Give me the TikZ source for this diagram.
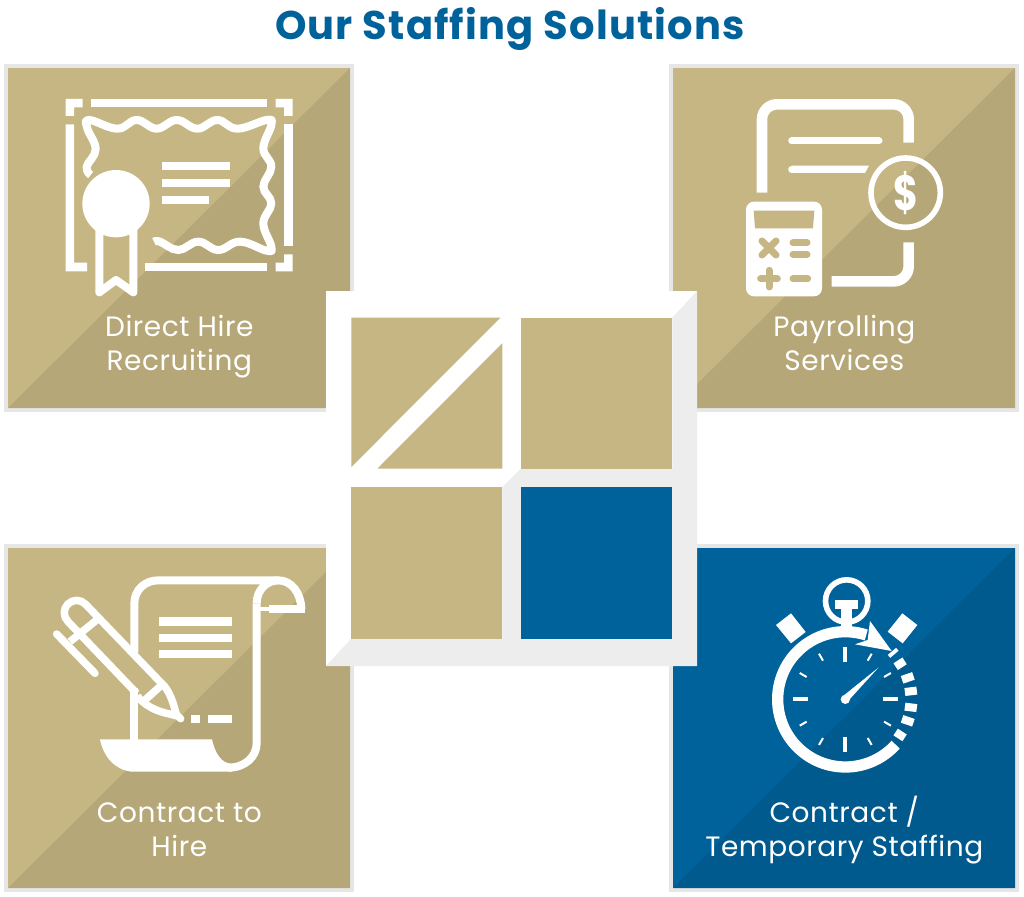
\documentclass[tikz,border=0pt]{standalone}
\usepackage{fontspec}
\setmainfont{Poppins}
\definecolor{tanlight}{HTML}{C5B683}
\definecolor{tandark}{HTML}{B5A777}
\definecolor{bluelight}{HTML}{00629B}
\definecolor{bluedark}{HTML}{005A8E}
\definecolor{edgegrey}{HTML}{E6E6E6}
\definecolor{bevelgrey}{HTML}{EDEDED}
\tikzset{
  label/.style={text=white,align=center,anchor=base,font=\fontsize{28}{34.7}\selectfont\addfontfeature{LetterSpace=2}},
  icon/.style={draw=white,line width=8pt},
  solid/.style={fill=white}
}
\begin{document}
\begin{tikzpicture}[x=1pt,y=-1pt]
\useasboundingbox (0,0) rectangle (1024,896);
\fill[white] (0,0) rectangle (1024,896);

\node[text=bluelight,anchor=base,font=\fontsize{40}{44}\selectfont\bfseries\addfontfeature{LetterSpace=3}] (title) at (510,40) {Our Staffing Solutions};

% cards
\foreach \x/\y/\lt/\dk in {8/68/tanlight/tandark,673/68/tanlight/tandark,8/548/tanlight/tandark,673/548/bluelight/bluedark} {
  \fill[\lt,draw=edgegrey,line width=4pt] (\x-2,\y-2) rectangle (\x+344,\y+342);
  \fill[\lt] (\x,\y) rectangle (\x+342,\y+340);
  \fill[\dk] (\x+342,\y) -- (\x+342,\y+340) -- (\x,\y+340) -- cycle;
}

% centre block
\fill[white] (326,291) rectangle (697,666);
\fill[bevelgrey] (697,291) -- (697,666) -- (326,666) -- (351.3,638.7) -- (502.3,638.7) -- (502.3,487.3) -- (521,468.7) -- (672.3,468.7) -- (672.3,317.7) -- cycle;
\fill[tanlight] (351.3,317.7) -- (500.3,317.7) -- (351.3,467) -- cycle;
\fill[tanlight] (502.3,343.3) -- (502.3,468.7) -- (377.3,468.7) -- cycle;
\fill[tanlight] (521,317.7) rectangle (672.3,468.7);
\fill[tanlight] (351.3,487.3) rectangle (502.3,638.7);
\fill[bluelight] (521,487.3) rectangle (672.3,638.7);

% certificate
\begin{scope}[shift={(0,60)},scale=1/3]
  \fill[solid] (197,117) -- (248,117) -- (248,142) -- (222,142) -- (222,168) -- (197,168) -- cycle;
  \fill[solid] (273,117) rectangle (802,142);
  \fill[solid] (827,117) -- (878,117) -- (878,168) -- (852,168) -- (852,142) -- (827,142) -- cycle;
  \fill[solid] (852,193) rectangle (878,558);
  \fill[solid] (878,583) -- (878,634) -- (827,634) -- (827,608) -- (852,608) -- (852,583) -- cycle;
  \fill[solid] (436,608) rectangle (802,634);
  \fill[solid] (197,193) -- (222,193) -- (222,608) -- (261,608) -- (261,634) -- (197,634) -- cycle;
  \draw[icon,line join=round] plot[smooth,tension=.7] coordinates {(272,345) (260,320) (287,268) (262,205) (268,180) (352,206) (410,180) (470,206) (530,180) (592,206) (652,180) (712,206) (800,180) (814,195) (790,265) (814,320) (790,380) (814,430) (790,490) (814,560) (800,572) (720,545) (655,570) (595,545) (535,570) (480,545) (462,545)};
  \fill[solid] (348,431) circle[radius=101];
  \draw[icon,line join=round] (298,505) -- (298,697) -- (348,660) -- (400,697) -- (400,505);
  \fill[solid] (487,306) rectangle (689,331);
  \fill[solid] (487,357) rectangle (689,382);
  \fill[solid] (487,407) rectangle (626,432);
\end{scope}

% payroll
\begin{scope}[shift={(665,60)},scale=1/3]
  \draw[icon,line width=10.6pt,rounded corners=15pt] (291,398) -- (291,133) -- (731,133) -- (731,248);
  \draw[icon,line width=10.6pt,rounded corners=15pt] (731,547) -- (731,664) -- (500,664);
  \draw[icon,line width=7pt,line cap=round] (380,243) -- (642,243);
  \draw[icon,line width=7pt,line cap=round] (380,328) -- (420,328);
  \fill[solid] (380,317) -- (612,317) -- (600,339) -- (380,339) -- cycle;
  \draw[icon,line width=5.6pt] (722,398) circle[radius=104];
  \node[text=white,font=\fontsize{38}{38}\selectfont\bfseries] (dollar) at (722,398) {\scalebox{1}[1.3]{\$}};
  \fill[solid,rounded corners=8pt] (243,425) rectangle (471,709);
  \fill[tanlight] (266,452) -- (448,452) -- (444,505) -- (270,505) -- cycle;
  \draw[tanlight,line width=7pt,line cap=round] (291,543) -- (333,585);
  \draw[tanlight,line width=7pt,line cap=round] (333,543) -- (291,585);
  \draw[tanlight,line width=7pt,line cap=round] (384,549) -- (426,549);
  \draw[tanlight,line width=7pt,line cap=round] (384,583) -- (426,583);
  \draw[tanlight,line width=7pt,line cap=round] (287,656) -- (337,656);
  \draw[tanlight,line width=7pt,line cap=round] (312,631) -- (312,681);
  \draw[tanlight,line width=7pt,line cap=round] (384,656) -- (428,656);
\end{scope}

% contract
\begin{scope}[shift={(0,540)},scale=1/3]
  \draw[icon] (403,338) -- (403,190) .. controls (403,150) and (435,121) .. (475,121) -- (835,121) .. controls (875,121) and (903,160) .. (904,207);
  \draw[icon] (770,190) .. controls (770,150) and (800,121) .. (835,121);
  \draw[icon] (770,190) -- (770,610) .. controls (770,650) and (735,683) .. (685,683);
  \draw[icon,line width=4pt] (770,207) -- (807,207);
  \fill[solid] (807,195) rectangle (916,218);
  \draw[icon] (403,445) -- (403,600);
  \fill[solid] (300,598) -- (636,598) .. controls (645,640) and (665,671) .. (695,671) -- (695,695) -- (395,695) .. controls (345,690) and (310,650) .. (300,598) -- cycle;
  \fill[solid] (476,232) rectangle (696,257);
  \fill[solid] (476,281) rectangle (696,306);
  \fill[solid] (476,330) rectangle (696,355);
  \fill[solid] (574,525) rectangle (599,550);
  \fill[solid] (623,525) rectangle (696,550);
  % pen
  \draw[icon,line width=7.5pt] (480,425) -- (256,192) arc[start angle=-45,end angle=-225,radius=37] -- (410,460);
  \draw[icon,line width=7.5pt] (480,425) .. controls (510,450) and (520,490) .. (530,527);
  \draw[icon,line width=7.5pt] (412,468) .. controls (445,510) and (490,518) .. (530,527);
  \draw[icon,line width=7.5pt] (485,435) -- (435,480);
  \draw[icon,line width=7.5pt] (290,240) -- (210,305);
  \draw[icon,line width=7.5pt,line cap=round] (170,282) -- (285,400);
  \draw[icon,line width=7.5pt,line cap=round] (530,525) -- (542,536);
\end{scope}

% stopwatch
\begin{scope}[shift={(665,540)},scale=1/3]
  \draw[icon,line width=5.6pt] (545,183) circle[radius=63.5];
  \fill[solid] (510,181) rectangle (580,208);
  \fill[solid] (529,208) rectangle (562,262);
  \fill[solid] (378,220) -- (422,276) -- (378,310) -- (333,255) -- cycle;
  \fill[solid] (712,220) -- (757,255) -- (713,310) -- (668,275) -- cycle;
  \fill[solid] (615,243) -- (680,333) -- (570,313) -- (608,300) -- cycle;
  \draw[icon,line width=3.8pt] (672,349) -- (697,328);
  \begin{scope}[shift={(541,478)}]
    \draw[icon,line width=11.3pt] (42:203) arc[start angle=42,end angle=288,radius=203];
    \foreach \a in {0,90,180,270} \draw[icon,line width=4pt] (\a:112) -- (\a:158);
    \foreach \a in {30,60,120,150,210,240,300,330} \draw[icon,line width=2pt] (\a:134) -- (\a:158);
    \foreach \a in {-19,-7,7,19} \draw[icon,line width=8pt] (\a:180) -- (\a:216);
    \foreach \a in {-33,33} \draw[icon,line width=8pt] (\a:180) -- (\a:212);
    \fill[solid] (0,0) circle[radius=14];
    \fill[solid] (99,-95) -- (11,2) -- (-3,-13) -- cycle;
  \end{scope}
\end{scope}

% labels
\node[label] (direct) at (179.3,370.7) {Direct Hire\\Recruiting};
\node[label] (payroll) at (844.3,370.7) {Payrolling\\Services};
\node[label] (contract) at (179.3,856) {Contract to\\[-1pt]Hire};
\node[label] (temp) at (844.3,856) {Contract /\\[-1pt]Temporary Staffing};
\end{tikzpicture}
\end{document}
